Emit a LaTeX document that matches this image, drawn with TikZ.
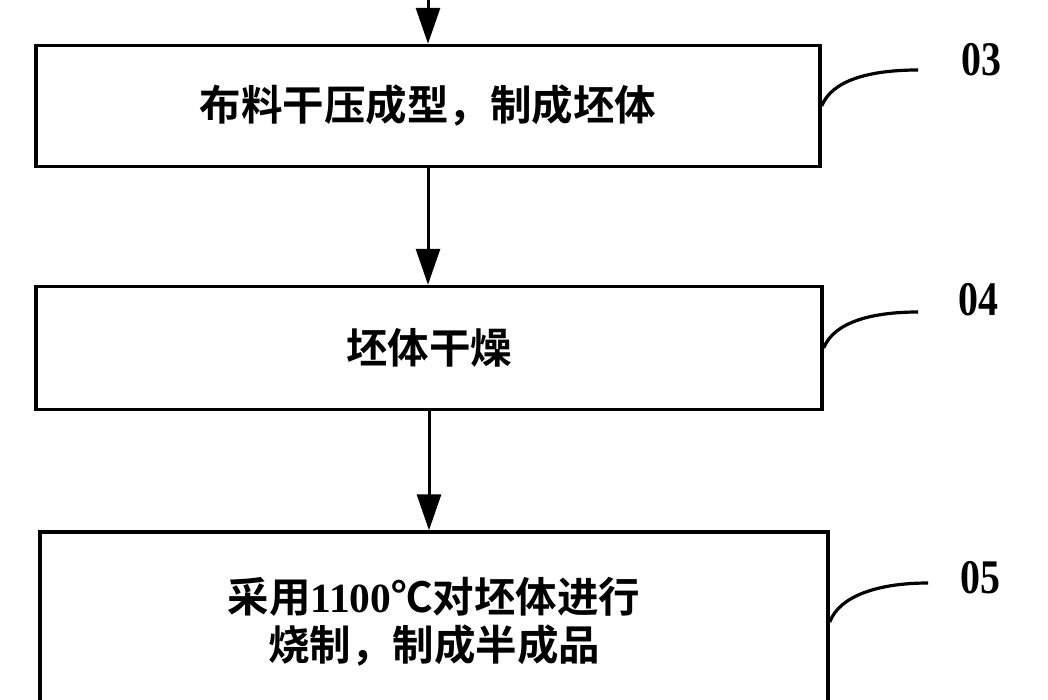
\documentclass[tikz,border=0pt]{standalone}
\usepackage{fontspec}
\newfontfamily\cjk{Noto Sans CJK SC}[BoldFont={Noto Sans CJK SC Bold}]
\newfontfamily\lab{Liberation Serif}
\usetikzlibrary{arrows.meta}
\begin{document}
\begin{tikzpicture}[x=1pt,y=-1pt,
  stepbox/.style={draw,line width=3.4pt,rectangle,inner sep=0pt,align=center,
     font=\cjk\bfseries\fontsize{41.5}{48}\selectfont},
  flow/.style={line width=3pt,-{Triangle[length=36pt,width=24pt]}},
  leader/.style={line width=3.2pt},
  tag/.style={font=\lab\bfseries\fontsize{42}{42}\selectfont,inner sep=0pt,xscale=0.95,yscale=1.15,transform shape}]
\useasboundingbox (0,0) rectangle (1048,700);
\node[stepbox,minimum width=784pt,minimum height=121pt] (b3) at (428,106) {布料干压成型，制成坯体};
\node[stepbox,minimum width=786pt,minimum height=123pt] (b4) at (429,348) {坯体干燥};
\node[stepbox,minimum width=788pt,minimum height=180pt] (b5) at (434,622) {采用{\lab\bfseries 1100}℃对坯体进行\\烧制，制成半成品};
\coordinate (top) at (428,-5);
\draw[flow] (top) -- (b3.north);
\draw[flow] (b3.south) -- (b3.south |- b4.north);
\draw[flow] (b4.south) -- (b4.south |- b5.north);
\node[tag] (t3) at (981,60) {03};
\node[tag] (t4) at (978,300) {04};
\node[tag] (t5) at (980,578) {05};
\coordinate (e3) at (918,70);
\coordinate (e4) at (918,312);
\coordinate (e5) at (928,583);
\draw[leader] (b3.east) .. controls (832,80) and (870,70) .. (e3);
\draw[leader] (b4.east) .. controls (834,322) and (872,312) .. (e4);
\draw[leader] (b5.east) .. controls (840,595) and (880,583) .. (e5);
\end{tikzpicture}
\end{document}
